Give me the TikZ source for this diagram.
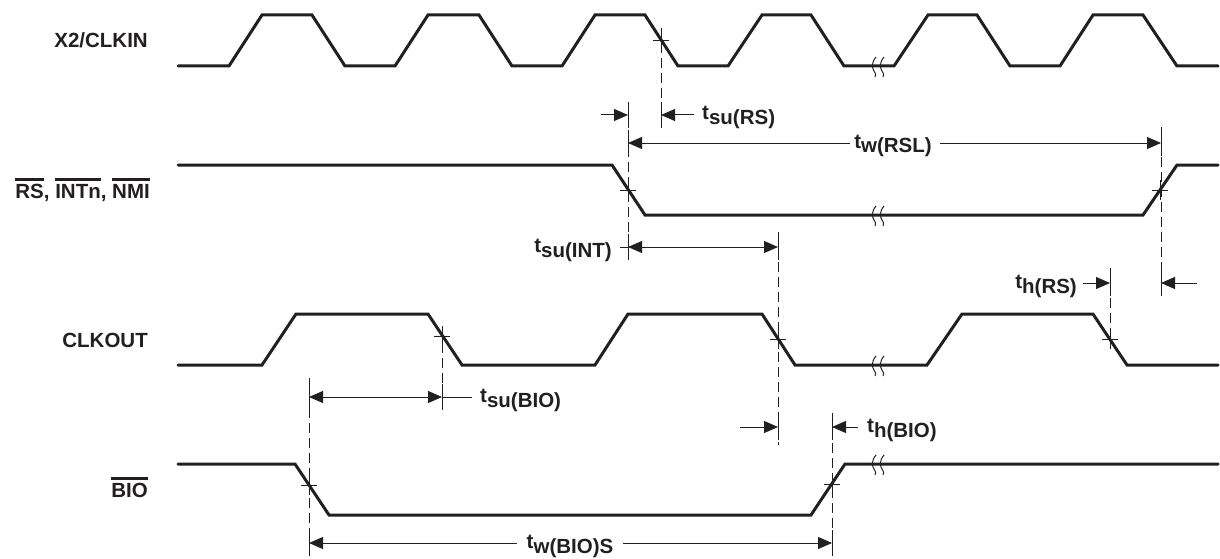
\documentclass[tikz,border=0pt]{standalone}
\usepackage{fontspec}
\setmainfont{Liberation Sans}
\usetikzlibrary{arrows.meta}
\definecolor{ink}{RGB}{35,31,32}
\newcommand\ovl[1]{\leavevmode\setbox0=\hbox{#1}\rlap{\raisebox{\dimexpr\ht0+3pt\relax}{\rule{\wd0}{2.6pt}}}\box0}
\newcommand\tlab[1]{t\raisebox{-5pt}{#1}}
\tikzset{
  wave/.style={line width=3pt, line cap=round, line join=miter},
  thin/.style={line width=1pt},
  arr/.style={thin, -{Triangle[length=14pt,width=12pt]}},
  arrs/.style={thin, {Triangle[length=14pt,width=12pt]}-{Triangle[length=14pt,width=12pt]}},
  guide/.style={line width=1pt, dash pattern=on 10pt off 5pt},
  sig/.style={anchor=base east, inner sep=0pt},
  tl/.style={inner sep=0pt},
  brkmark/.pic={
    \draw[line width=1pt] (-2,-9) .. controls (-7,-3) and (-6,2) .. (-4,5) .. controls (-2,8) and (-2,10) .. (-3,11);
    \draw[line width=1pt] (6,-9) .. controls (1,-3) and (2,2) .. (4,5) .. controls (6,8) and (6,10) .. (5,11);
  },
  crossmark/.pic={
    \draw[line width=0.9pt] (-8,0) -- (8,0);
    \draw[line width=0.9pt] (0,-10) -- (0,10);
  }
}
\begin{document}
\begin{tikzpicture}[x=1pt,y=-1pt, color=ink, font=\fontsize{20.5}{24}\selectfont\bfseries]
\useasboundingbox (0,0) rectangle (1220,559);

% signal names
\node[sig] (nclk) at (148,48) {X2/CLKIN};
\node[sig] (nrs) at (150,198) {\ovl{RS}, \ovl{INTn}, \ovl{NMI}};
\node[sig] (nco) at (148,347) {CLKOUT};
\node[sig] (nbio) at (148,497) {\ovl{BIO}};

% waveforms
\draw[wave] (178,66) -- (229,66) -- (262,15) -- (312,15) -- (345,66) -- (395,66) -- (428,15) -- (479,15) -- (512,66) -- (562,66) -- (595,15) -- (645,15) -- (678,66) -- (728,66) -- (762,15) -- (811,15) -- (844,66) -- (894,66) -- (928,15) -- (977,15) -- (1010,66) -- (1060,66) -- (1093,15) -- (1143,15) -- (1177,66) -- (1218,66);
\draw[wave] (178,165) -- (612,165) -- (645,215) -- (1143,215) -- (1177,165) -- (1218,165);
\draw[wave] (178,365) -- (262,365) -- (296,314) -- (428,314) -- (462,365) -- (595,365) -- (628,314) -- (762,314) -- (795,365) -- (927,365) -- (962,314) -- (1093,314) -- (1127,365) -- (1218,365);
\draw[wave] (178,464) -- (295,464) -- (329,515) -- (811,515) -- (845,464) -- (1218,464);

% break marks
\pic at (878,66) {brkmark};
\pic at (878,215) {brkmark};
\pic at (878,365) {brkmark};
\pic at (878,464) {brkmark};

% crossing points
\coordinate (xc) at (661,40);
\coordinate (rf) at (628,190);
\coordinate (rr) at (1160,190);
\coordinate (c1) at (442,336);
\coordinate (c2) at (778,339);
\coordinate (c3) at (1110,339);
\coordinate (bf) at (309,485);
\coordinate (br) at (832,484);
\foreach \p in {xc,rf,rr,c1,c2,c3,bf,br} \pic at (\p) {crossmark};

% dashed guides
\draw[guide] (661,28) -- (661,130);
\draw[guide] (628,102) -- (628,258);
\draw[guide] (1161,127) -- (1161,296);
\draw[guide] (1110,268) -- (1110,347);
\draw[guide] (778,232) -- (778,445);
\draw[guide] (442,328) -- (442,410);
\draw[guide] (309,378) -- (309,552);
\draw[guide] (832,413) -- (832,552);

% solid ticks at arrow ends
\foreach \x/\y in {661/115, 628/115, 628/143, 1161/143, 628/247, 778/247, 1110/283, 1161/283, 309/397, 442/397, 778/427, 832/427, 309/543, 832/543}
  \draw[thin] (\x,\y-13) -- (\x,\y+13);

% t_su(RS)
\draw[arr] (601,115) -- (628,115);
\draw[arr] (694,115) -- (661,115);
\node[tl, anchor=base west] (lsurs) at (702,120) {\tlab{su(RS)}};

% t_w(RSL)
\draw[arr] (850,143) -- (628,143);
\draw[arr] (940,143) -- (1161,143);
\node[tl, anchor=base] (lwrsl) at (893,148) {\tlab{w(RSL)}};

% t_su(INT)
\draw[thin] (620,247) -- (628,247);
\draw[arrs] (628,247) -- (778,247);
\node[tl, anchor=base east] (lsuint) at (612,252) {\tlab{su(INT)}};

% t_h(RS)
\draw[arr] (1083,283) -- (1110,283);
\draw[arr] (1197,283) -- (1161,283);
\node[tl, anchor=base east] (lhrs) at (1077,288) {\tlab{h(RS)}};

% t_su(BIO)
\draw[arrs] (309,397) -- (442,397);
\draw[thin] (442,397) -- (472,397);
\node[tl, anchor=base west] (lsubio) at (480,402) {\tlab{su(BIO)}};

% t_h(BIO)
\draw[arr] (740,427) -- (778,427);
\draw[arr] (858,427) -- (832,427);
\node[tl, anchor=base west] (lhbio) at (867,432) {\tlab{h(BIO)}};

% t_w(BIO)S
\draw[arr] (517,543) -- (309,543);
\draw[arr] (623,543) -- (832,543);
\node[tl, anchor=base] (lwbio) at (570,548) {\tlab{w(BIO)S}};
\end{tikzpicture}
\end{document}
